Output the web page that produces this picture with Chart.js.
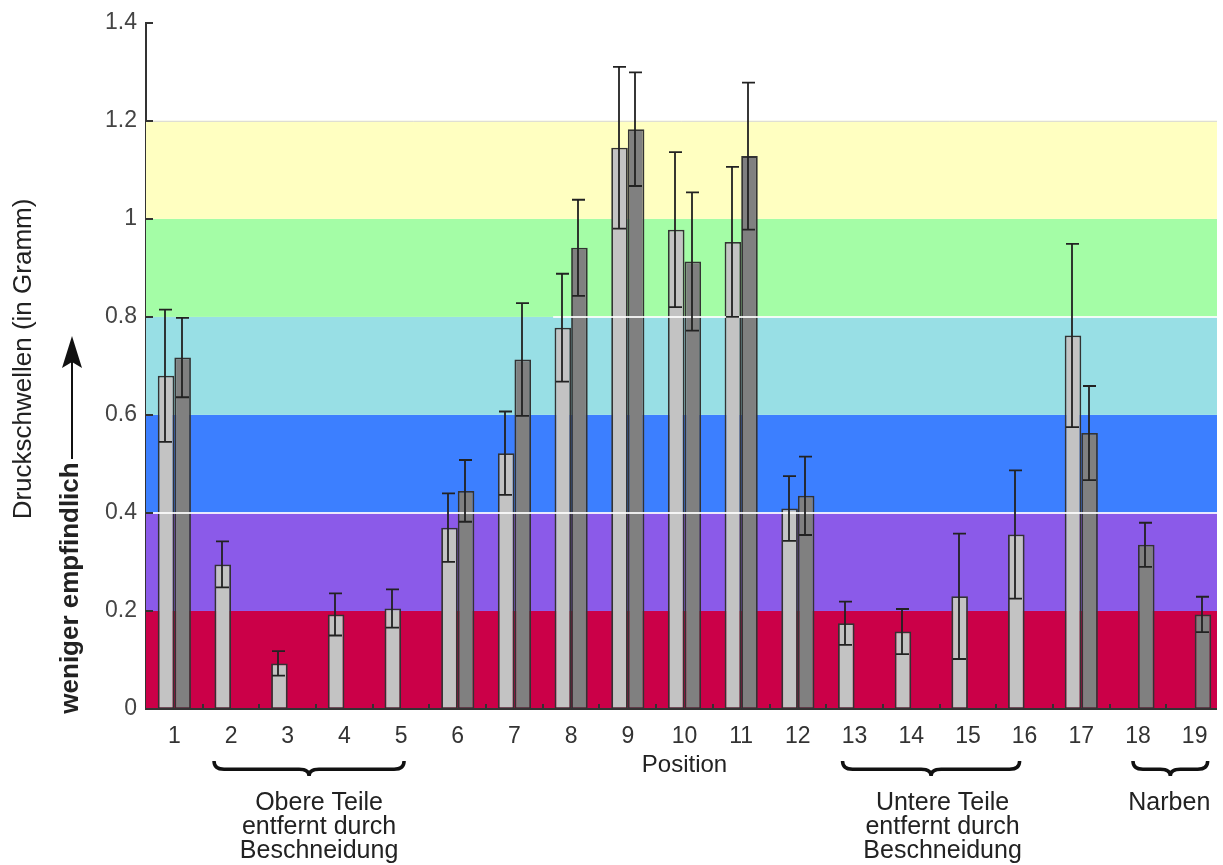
<!DOCTYPE html>
<html>
<head>
<meta charset="utf-8">
<script src="https://cdn.jsdelivr.net/npm/chart.js@4.4.0/dist/chart.umd.min.js"></script>
<style>
  html, body { margin: 0; padding: 0; background: #fff; }
  #wrap { width: 1223px; height: 865px; position: relative; }
</style>
</head>
<body>
<div id="wrap"><canvas id="chart" width="1223" height="865"></canvas></div>
<script>
const positions = ['1','2','3','4','5','6','7','8','9','10','11','12','13','14','15','16','17','18','19'];

// hellgraue Balken (Mittelwert) und Fehler (+/-)
const lightValues = [0.68, 0.295, 0.093, 0.193, 0.205, 0.37, 0.522, 0.778, 1.145, 0.978, 0.953, 0.409, 0.175, 0.158, 0.23, 0.356, 0.762, null, null];
const lightErrors = [0.135, 0.047, 0.025, 0.043, 0.039, 0.07, 0.085, 0.11, 0.165, 0.158, 0.153, 0.066, 0.044, 0.046, 0.128, 0.131, 0.187, null, null];

// dunkelgraue Balken
const darkValues = [0.717, null, null, null, null, 0.445, 0.713, 0.941, 1.183, 0.913, 1.128, 0.435, null, null, null, null, 0.563, 0.335, 0.193];
const darkErrors = [0.081, null, null, null, null, 0.063, 0.115, 0.098, 0.116, 0.141, 0.15, 0.08, null, null, null, null, 0.096, 0.045, 0.036];

const yTicks = [0, 0.2, 0.4, 0.6, 0.8, 1, 1.2, 1.4];

// farbige Bereiche im Hintergrund
const bandLimits = [[0, 0.2], [0.2, 0.4], [0.4, 0.6], [0.6, 0.8], [0.8, 1.0], [1.0, 1.2]];
const bandColors = ['#cb0048', '#8b5ae9', '#3c7fff', '#98dfe5', '#a4fda6', '#ffffc1'];

// Gruppen unter der x-Achse: erste/letzte Position, Text
const groups = [
  { from: 1, to: 4, lines: ['Obere Teile', 'entfernt durch', 'Beschneidung'], padL: 17, padR: -3 },
  { from: 12, to: 15, lines: ['Untere Teile', 'entfernt durch', 'Beschneidung'], padL: 12, padR: 5 },
  { from: 17, to: 18, lines: ['Narben'], padL: 5, padR: -13 }
];

const FONT = '"Liberation Sans", Arial, sans-serif';
const RIGHT_GAP = 6;

const bandsPlugin = {
  id: 'bands',
  beforeDatasetsDraw(chart) {
    const { ctx, chartArea, scales: { y } } = chart;
    const right = chartArea.right - RIGHT_GAP;
    ctx.save();
    bandLimits.forEach(([lo, hi], i) => {
      const top = y.getPixelForValue(hi);
      const bottom = y.getPixelForValue(lo);
      ctx.fillStyle = bandColors[i];
      ctx.fillRect(chartArea.left, top, right - chartArea.left, bottom - top);
    });
    ctx.strokeStyle = '#d8d8d8';
    ctx.lineWidth = 1;
    ctx.beginPath();
    ctx.moveTo(chartArea.left, y.getPixelForValue(1.2) + 0.5);
    ctx.lineTo(right, y.getPixelForValue(1.2) + 0.5);
    ctx.stroke();
    ctx.restore();
  }
};

const errorBarsPlugin = {
  id: 'errorBars',
  afterDatasetsDraw(chart) {
    const { ctx, chartArea, scales: { x, y } } = chart;
    const right = chartArea.right - RIGHT_GAP;
    ctx.save();
    // helle Linien über den Balken
    ctx.strokeStyle = 'rgba(255,255,255,0.85)';
    ctx.lineWidth = 2;
    ctx.beginPath();
    ctx.moveTo(chartArea.left, y.getPixelForValue(0.4));
    ctx.lineTo(right, y.getPixelForValue(0.4));
    ctx.moveTo(x.getPixelForValue(7) - 18, y.getPixelForValue(0.8));
    ctx.lineTo(right, y.getPixelForValue(0.8));
    ctx.stroke();

    const errs = [lightErrors, darkErrors];
    ctx.strokeStyle = '#222';
    ctx.lineWidth = 1.8;
    chart.data.datasets.forEach((ds, di) => {
      const meta = chart.getDatasetMeta(di);
      meta.data.forEach((bar, i) => {
        const v = ds.data[i];
        const e = errs[di][i];
        if (v == null || e == null) return;
        const cx = Math.round(bar.x) - 1;
        const yTop = y.getPixelForValue(v + e);
        const yBot = y.getPixelForValue(v - e);
        ctx.beginPath();
        ctx.moveTo(cx, yTop);
        ctx.lineTo(cx, yBot);
        ctx.moveTo(cx - 6, yTop);
        ctx.lineTo(cx + 7, yTop);
        ctx.moveTo(cx - 6, yBot);
        ctx.lineTo(cx + 7, yBot);
        ctx.stroke();
      });
    });
    ctx.restore();
  }
};

function drawBrace(ctx, x1, x2, y0, h) {
  const mid = (x1 + x2) / 2;
  const r = 10;
  const ym = y0 + h * 0.55;
  ctx.beginPath();
  ctx.moveTo(x1, y0);
  ctx.quadraticCurveTo(x1, ym, x1 + r, ym);
  ctx.lineTo(mid - r, ym);
  ctx.quadraticCurveTo(mid, ym, mid, y0 + h);
  ctx.quadraticCurveTo(mid, ym, mid + r, ym);
  ctx.lineTo(x2 - r, ym);
  ctx.quadraticCurveTo(x2, ym, x2, y0);
  ctx.stroke();
}

const decorPlugin = {
  id: 'decor',
  afterDraw(chart) {
    const { ctx, chartArea, scales: { x, y } } = chart;
    ctx.save();
    ctx.strokeStyle = '#333';

    // x-Achse
    ctx.lineWidth = 2;
    ctx.beginPath();
    ctx.moveTo(chartArea.left, chartArea.bottom);
    ctx.lineTo(chartArea.right - RIGHT_GAP, chartArea.bottom);
    ctx.stroke();

    // Striche nach innen
    ctx.beginPath();
    yTicks.forEach(t => {
      const py = Math.round(y.getPixelForValue(t));
      ctx.moveTo(chartArea.left, py);
      ctx.lineTo(chartArea.left + 7, py);
    });
    for (let k = 1; k < positions.length; k++) {
      const px = Math.round((x.getPixelForValue(k - 1) + x.getPixelForValue(k)) / 2);
      ctx.moveTo(px, chartArea.bottom);
      ctx.lineTo(px, chartArea.bottom - 5);
    }
    ctx.stroke();

    // y-Achsentitel
    ctx.fillStyle = '#222';
    ctx.textAlign = 'center';
    ctx.textBaseline = 'middle';
    ctx.save();
    ctx.translate(24, 359);
    ctx.rotate(-Math.PI / 2);
    ctx.font = '26px ' + FONT;
    ctx.fillText('Druckschwellen (in Gramm)', 0, 0);
    ctx.restore();

    ctx.save();
    ctx.translate(71, 588);
    ctx.rotate(-Math.PI / 2);
    ctx.font = 'bold 26px ' + FONT;
    ctx.fillText('weniger empfindlich', 0, 0);
    ctx.restore();

    // Pfeil
    ctx.strokeStyle = '#111';
    ctx.fillStyle = '#111';
    ctx.lineWidth = 2;
    ctx.beginPath();
    ctx.moveTo(72, 459);
    ctx.lineTo(72, 360);
    ctx.stroke();
    ctx.beginPath();
    ctx.moveTo(72, 336);
    ctx.lineTo(82, 368);
    ctx.lineTo(72, 362);
    ctx.lineTo(62, 368);
    ctx.closePath();
    ctx.fill();

    // x-Achsentitel
    ctx.fillStyle = '#222';
    ctx.font = '24px ' + FONT;
    ctx.fillText('Position', (x.getPixelForValue(0) + x.getPixelForValue(positions.length - 1)) / 2, 765);

    // Klammern und Gruppentexte
    ctx.strokeStyle = '#111';
    ctx.lineWidth = 3.5;
    ctx.font = '25px ' + FONT;
    groups.forEach(g => {
      const x1 = x.getPixelForValue(g.from) - g.padL;
      const x2 = x.getPixelForValue(g.to) - g.padR;
      drawBrace(ctx, x1, x2, 761, 15);
      const cx = (x.getPixelForValue(g.from) + x.getPixelForValue(g.to)) / 2 + 3;
      g.lines.forEach((line, li) => {
        ctx.fillText(line, cx, 803 + li * 24);
      });
    });
    ctx.restore();
  }
};

new Chart(document.getElementById('chart'), {
  type: 'bar',
  data: {
    labels: positions,
    datasets: [
      {
        label: 'hell',
        data: lightValues,
        backgroundColor: '#c3c3c3',
        borderColor: '#333',
        borderWidth: 1.8,
        borderSkipped: false
      },
      {
        label: 'dunkel',
        data: darkValues,
        backgroundColor: '#808080',
        borderColor: '#333',
        borderWidth: 1.8,
        borderSkipped: false
      }
    ]
  },
  options: {
    responsive: false,
    animation: false,
    devicePixelRatio: 1,
    layout: { padding: { top: 20, right: 0, bottom: 0, left: 0 } },
    datasets: { bar: { categoryPercentage: 0.585, barPercentage: 1.0 } },
    plugins: {
      legend: { display: false },
      tooltip: { enabled: false }
    },
    scales: {
      x: {
        offset: true,
        grid: { display: false, drawTicks: false },
        border: { display: false },
        ticks: {
          padding: 14,
          color: '#333',
          font: { family: FONT, size: 23 },
          maxRotation: 0,
          autoSkip: false
        },
        afterFit(scale) { scale.height = 156; }
      },
      y: {
        min: 0,
        max: 1.4,
        grid: { display: false, drawTicks: false },
        border: { display: true, color: '#333', width: 2 },
        afterBuildTicks(scale) { scale.ticks = yTicks.map(v => ({ value: v })); },
        ticks: {
          padding: 9,
          color: '#444',
          font: { family: FONT, size: 23 },
          callback: v => String(+v.toFixed(1))
        },
        afterFit(scale) { scale.width = 146; }
      }
    }
  },
  plugins: [bandsPlugin, errorBarsPlugin, decorPlugin]
});
</script>
</body>
</html>
